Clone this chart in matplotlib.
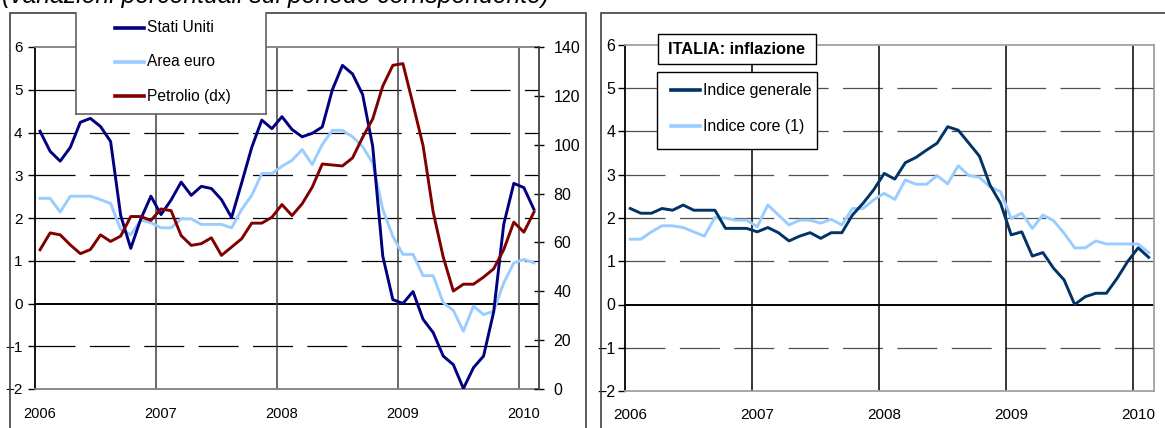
import numpy as np
import matplotlib
matplotlib.use("Agg")
import matplotlib.pyplot as plt
from matplotlib.lines import Line2D
from matplotlib.patches import Rectangle

# monthly data, Jan 2006 - Feb 2010 (50 months)
stati_uniti = [4.03, 3.56, 3.33, 3.65, 4.24, 4.33, 4.14, 3.79, 2.06, 1.29, 1.98, 2.51,
               2.08, 2.42, 2.84, 2.53, 2.74, 2.69, 2.43, 2.01, 2.82, 3.65, 4.29, 4.09,
               4.37, 4.07, 3.90, 3.98, 4.13, 5.00, 5.57, 5.37, 4.89, 3.68, 1.11, 0.09,
               0.00, 0.28, -0.37, -0.68, -1.23, -1.43, -1.99, -1.50, -1.23, -0.20, 1.85, 2.81,
               2.71, 2.20]
area_euro = [2.46, 2.46, 2.14, 2.51, 2.51, 2.51, 2.43, 2.34, 1.73, 1.61, 1.95, 1.89,
             1.77, 1.77, 1.98, 1.98, 1.85, 1.85, 1.85, 1.77, 2.20, 2.53, 3.04, 3.04,
             3.21, 3.35, 3.60, 3.25, 3.72, 4.05, 4.05, 3.90, 3.67, 3.29, 2.20, 1.57,
             1.15, 1.15, 0.65, 0.65, 0.02, -0.16, -0.65, -0.06, -0.26, -0.18, 0.48, 0.95,
             1.03, 0.95]
petrolio = [57.0, 63.9, 63.1, 59.0, 55.4, 57.1, 63.1, 60.4, 62.6, 70.6, 70.6, 69.0,
            73.7, 73.0, 62.8, 58.8, 59.5, 61.9, 54.7, 58.1, 61.5, 67.9, 67.9, 70.3,
            75.5, 71.0, 75.8, 82.6, 92.1, 91.7, 91.3, 94.6, 103.0, 110.5, 124.0, 132.5,
            133.2, 116.6, 99.6, 72.5, 54.0, 40.1, 42.9, 42.9, 45.8, 49.2, 57.0, 68.3,
            64.2, 72.4]
indice_generale = [2.22, 2.11, 2.11, 2.22, 2.18, 2.30, 2.18, 2.18, 2.18, 1.76, 1.76, 1.76,
                   1.68, 1.78, 1.66, 1.47, 1.58, 1.66, 1.53, 1.66, 1.66, 2.07, 2.34, 2.65,
                   3.03, 2.90, 3.28, 3.40, 3.57, 3.73, 4.11, 4.03, 3.73, 3.43, 2.76, 2.34,
                   1.61, 1.68, 1.12, 1.20, 0.84, 0.57, 0.00, 0.18, 0.26, 0.26, 0.60, 0.99,
                   1.31, 1.09]
indice_core = [1.51, 1.51, 1.68, 1.82, 1.82, 1.78, 1.68, 1.58, 2.01, 2.00, 1.95, 1.95,
               1.80, 2.30, 2.07, 1.84, 1.95, 1.95, 1.88, 1.97, 1.84, 2.22, 2.22, 2.42,
               2.57, 2.43, 2.88, 2.78, 2.78, 2.98, 2.79, 3.21, 2.98, 2.94, 2.72, 2.61,
               1.99, 2.11, 1.76, 2.07, 1.94, 1.65, 1.31, 1.31, 1.47, 1.40, 1.40, 1.40,
               1.40, 1.20]
anni = ['2006', '2007', '2008', '2009', '2010']

W, H = 1165, 428
plt.rcParams['font.family'] = ['Liberation Sans', 'DejaVu Sans']

fig = plt.figure(figsize=(W / 100, H / 100), dpi=100)


def fx(px):
    return px / W


def fy(py):
    return 1 - py / H


n = len(stati_uniti)
x = np.arange(n) + 0.5
dash = (0, (32, 11.5))

# ---------------- left panel ----------------
ax1 = fig.add_axes([fx(35), fy(389), fx(504), 342 / H])
ax1.set_xlim(0, n)
ax1.set_ylim(-2, 6)
for yv in range(-1, 6):
    if yv == 0:
        ax1.axhline(0, color='black', lw=1.4, zorder=1)
    else:
        ax1.axhline(yv, color='black', lw=0.9, ls=dash, zorder=1)
for xv in range(12, n, 12):
    ax1.axvline(xv, color='#404040', lw=1.1, zorder=1)
l_us, = ax1.plot(x, stati_uniti, color='#000080', lw=2.1, zorder=3)
l_eu, = ax1.plot(x, area_euro, color='#99ccff', lw=2.1, zorder=2)
ax1.set_yticks(range(-2, 7))
ax1.set_xticks(np.arange(0, n, 12) + 0.5)
ax1.set_xticklabels(anni)
ax1.tick_params(axis='y', direction='out', length=5, width=1, pad=4,
                labelsize=11)
ax1.tick_params(axis='x', length=0, pad=13, labelsize=10.5)
for s in ['top', 'bottom']:
    ax1.spines[s].set_color('#808080')
    ax1.spines[s].set_linewidth(1.3)
ax1.spines['left'].set_linewidth(1.3)
ax1.spines['right'].set_visible(False)

ax1r = ax1.twinx()
ax1r.set_ylim(0, 140)
l_oil, = ax1r.plot(x, petrolio, color='#800000', lw=2.1)
ax1r.set_yticks(range(0, 141, 20))
ax1r.tick_params(axis='y', direction='inout', length=7, width=1, pad=7,
                 labelsize=11.5)
for s in ['top', 'bottom', 'left']:
    ax1r.spines[s].set_visible(False)
ax1r.spines['right'].set_color('#404040')
ax1r.spines['right'].set_linewidth(1.3)

# ---------------- right panel ----------------
ax2 = fig.add_axes([fx(625), fy(391), fx(529), 346 / H])
ax2.set_xlim(0, n)
ax2.set_ylim(-2, 6)
for yv in range(-1, 6):
    if yv == 0:
        ax2.axhline(0, color='black', lw=1.4, zorder=1)
    else:
        ax2.axhline(yv, color='#505050', lw=0.9, ls=dash, zorder=1)
for xv in range(12, n, 12):
    ax2.axvline(xv, color='black', lw=1.1, zorder=1)
l_gen, = ax2.plot(x, indice_generale, color='#003366', lw=2.1, zorder=3)
l_core, = ax2.plot(x, indice_core, color='#99ccff', lw=2.1, zorder=2)
ax2.set_yticks(range(-2, 7))
ax2.set_xticks(np.arange(0, n, 12) + 0.5)
ax2.set_xticklabels(anni)
ax2.tick_params(axis='y', direction='out', length=5, width=1, pad=2,
                labelsize=11.5)
ax2.tick_params(axis='x', length=0, pad=12, labelsize=11)
for s in ['top', 'bottom', 'right']:
    ax2.spines[s].set_color('#a0a0a0')
    ax2.spines[s].set_linewidth(1.3)
ax2.spines['left'].set_linewidth(1.3)

# ---------------- frames, legends, titles ----------------
fig.add_artist(Rectangle((fx(10), -0.1), fx(576), fy(13) + 0.1, fill=False,
                         edgecolor='#404040', lw=1.2, transform=fig.transFigure))
fig.add_artist(Rectangle((fx(601), -0.1), fx(600), fy(13) + 0.1, fill=False,
                         edgecolor='#404040', lw=1.2, transform=fig.transFigure))

fig.text(fx(2), fy(3), '(variazioni percentuali sul periodo corrispondente)',
         style='italic', fontsize=17.7, va='baseline', ha='left')

# left legend box (open at the top)
fig.add_artist(Rectangle((fx(76), fy(114)), fx(190), (114 - 11) / H,
                         facecolor='white', edgecolor='none',
                         transform=fig.transFigure))
for xs, ys in [([76, 76], [13, 114]), ([266, 266], [13, 114]), ([76, 266], [114, 114])]:
    fig.add_artist(Line2D([fx(v) for v in xs], [fy(v) for v in ys],
                          color='#606060', lw=1.2))
for line, label, yp in [(l_us, 'Stati Uniti', 28), (l_eu, 'Area euro', 62),
                        (l_oil, 'Petrolio (dx)', 96)]:
    fig.add_artist(Line2D([fx(115), fx(144)], [fy(yp), fy(yp)],
                          color=line.get_color(), lw=2.6))
    fig.text(fx(147), fy(yp), label, va='center', ha='left', fontsize=11.2)

# right title and legend
fig.add_artist(Rectangle((fx(658), fy(64)), fx(158), 30 / H, facecolor='white',
                         edgecolor='black', lw=1.0, transform=fig.transFigure))
fig.text(fx(737), fy(49), 'ITALIA: inflazione', fontweight='bold',
         fontsize=11.8, ha='center', va='center')
fig.add_artist(Rectangle((fx(657), fy(149)), fx(160), 77 / H, facecolor='white',
                         edgecolor='black', lw=1.0, transform=fig.transFigure))
for line, label, yp in [(l_gen, 'Indice generale', 90), (l_core, 'Indice core (1)', 126)]:
    fig.add_artist(Line2D([fx(671), fx(700)], [fy(yp), fy(yp)],
                          color=line.get_color(), lw=2.6))
    fig.text(fx(703), fy(yp), label, va='center', ha='left', fontsize=11.4)

fig.savefig('out.png', dpi=100)
